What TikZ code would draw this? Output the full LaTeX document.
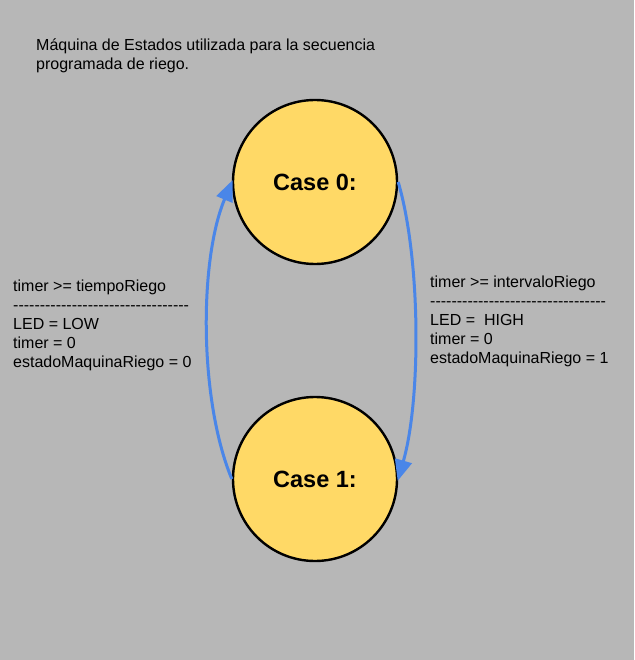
\documentclass[tikz,border=0pt]{standalone}
\usepackage{fontspec}
\setmainfont{Liberation Sans}[Ligatures=TeXOff]
\usetikzlibrary{arrows.meta}
\usetikzlibrary{positioning}

\definecolor{fondo}{HTML}{B7B7B7}
\definecolor{amarillo}{HTML}{FFD966}
\definecolor{azul}{HTML}{4A86E8}

\begin{document}
\begin{tikzpicture}[x=1pt,y=-1pt,
  estado/.style={circle,draw=black,line width=2.4pt,fill=amarillo,
    minimum size=164pt,inner sep=0pt,font=\fontsize{23.5}{28}\selectfont\bfseries},
  transicion/.style={draw=azul,line width=3pt,
    -{Triangle[length=21pt,width=17pt]},shorten >=-2pt},
  texto/.style={align=left,inner sep=0pt,anchor=west,
    font=\fontsize{16}{19}\selectfont}]

  % fondo gris
  \fill[fondo] (0,0) rectangle (634,660);
  \useasboundingbox (0,0) rectangle (634,660);

  % titulo
  \node[texto] (titulo) at (36,56)
  {Máquina de Estados utilizada para la secuencia\\programada de riego.};

  % estados
  \node[estado] (case0) at (315,182) {Case 0:};
  \node[estado] (case1) at (315,479) {Case 1:};

  % transiciones
  \draw[transicion] (case0.east) .. controls (421,260) and (421,400) .. (case1.east);
  \draw[transicion] (case1.west) .. controls (199,400) and (199,260) .. (case0.west);

  % condiciones y acciones
  \node[texto] (izq) at (13,325)
  {timer >= tiempoRiego\\
   ---------------------------------\\
   LED = LOW\\
   timer = 0\\
   estadoMaquinaRiego = 0};

  \node[texto] (der) at (430,321)
  {timer >= intervaloRiego\\
   ---------------------------------\\
   LED = \ HIGH\\
   timer = 0\\
   estadoMaquinaRiego = 1};

\end{tikzpicture}
\end{document}
